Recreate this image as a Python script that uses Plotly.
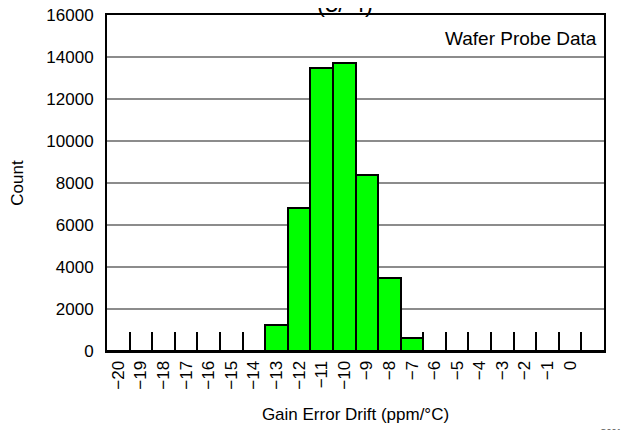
import plotly.graph_objects as go

# Data
bin_centers = list(range(-20, 2))  # -20 .. 1 (22 bins)
counts = [0, 0, 0, 0, 0, 0, 0, 1250, 6820, 13460, 13710, 8380, 3480, 600,
          0, 0, 0, 0, 0, 0, 0, 0]
tick_vals = list(range(-20, 1))
tick_text = [("\u2212" + str(abs(v))) if v < 0 else str(v) for v in tick_vals]
bin_edges = [c + 0.5 for c in bin_centers[:-1]]  # inner bin boundaries
y_ticks = list(range(0, 16001, 2000))
y_text = [str(v) for v in y_ticks]

FONT = "Liberation Sans, Arial, sans-serif"

fig = go.Figure()
fig.add_trace(go.Bar(
    x=bin_centers, y=counts, width=1.0,
    marker=dict(color="#00ff00", line=dict(color="black", width=2)),
    showlegend=False, hoverinfo="x+y",
))
# invisible trace to activate the boundary-tick axis
fig.add_trace(go.Scatter(x=[bin_centers[0]], y=[0], xaxis="x2", mode="markers",
                         marker=dict(opacity=0), showlegend=False, hoverinfo="skip"))

xr = [bin_centers[0] - 0.5, bin_centers[-1] + 0.5]
fig.update_layout(
    width=629, height=430,
    margin=dict(l=99, r=33, t=7, b=87, autoexpand=False),
    plot_bgcolor="white", paper_bgcolor="white",
    font=dict(family=FONT, size=17, color="black"),
    bargap=0,
    xaxis=dict(
        range=xr, tickmode="array", tickvals=tick_vals, ticktext=tick_text,
        tickangle=-90, ticks="", showgrid=False, zeroline=False, automargin=False,
        showline=True, linecolor="black", linewidth=2, mirror=True,
        tickfont=dict(size=17), ticklabelstandoff=1, ticklabeloverflow="allow",
        title=dict(text="Gain Error Drift (ppm/°C)", font=dict(size=17), standoff=19),
    ),
    xaxis2=dict(
        range=xr, overlaying="x", anchor="y", side="bottom", automargin=False,
        tickmode="array", tickvals=bin_edges, ticks="inside", ticklen=19,
        tickwidth=2, tickcolor="black", showticklabels=False,
        showgrid=False, zeroline=False, showline=False,
    ),
    yaxis=dict(
        range=[0, 16000], tickmode="array", tickvals=y_ticks, ticktext=y_text,
        ticks="", showgrid=True, gridcolor="#8c8c8c", gridwidth=1.5, automargin=False,
        zeroline=False, showline=True, linecolor="black", linewidth=2, mirror=True,
        tickfont=dict(size=17), ticklabelstandoff=8, ticklabeloverflow="allow",
        title=dict(text="Count", font=dict(size=17), standoff=19),
    ),
    shapes=[dict(type="rect", xref="paper", yref="paper", layer="between",
                 x0=0.652, x1=1.0, y0=0.84, y1=1.0,
                 fillcolor="white", line=dict(width=0))],
    annotations=[
        dict(text="Wafer Probe Data", xref="paper", yref="paper", x=0.99, y=0.93,
             xanchor="right", yanchor="middle", showarrow=False,
             font=dict(size=19)),
        dict(text="(5/ 4)", xref="paper", yref="paper", x=0.479, y=1.0,
             xanchor="center", yanchor="bottom", yshift=-4, showarrow=False,
             font=dict(size=24)),
        dict(text="C001", xref="paper", yref="paper", x=1.0, y=0.0,
             xanchor="right", yanchor="top", xshift=20, yshift=-74, showarrow=False,
             font=dict(size=9, color="#555")),
    ],
)
fig.write_html("out.html")
